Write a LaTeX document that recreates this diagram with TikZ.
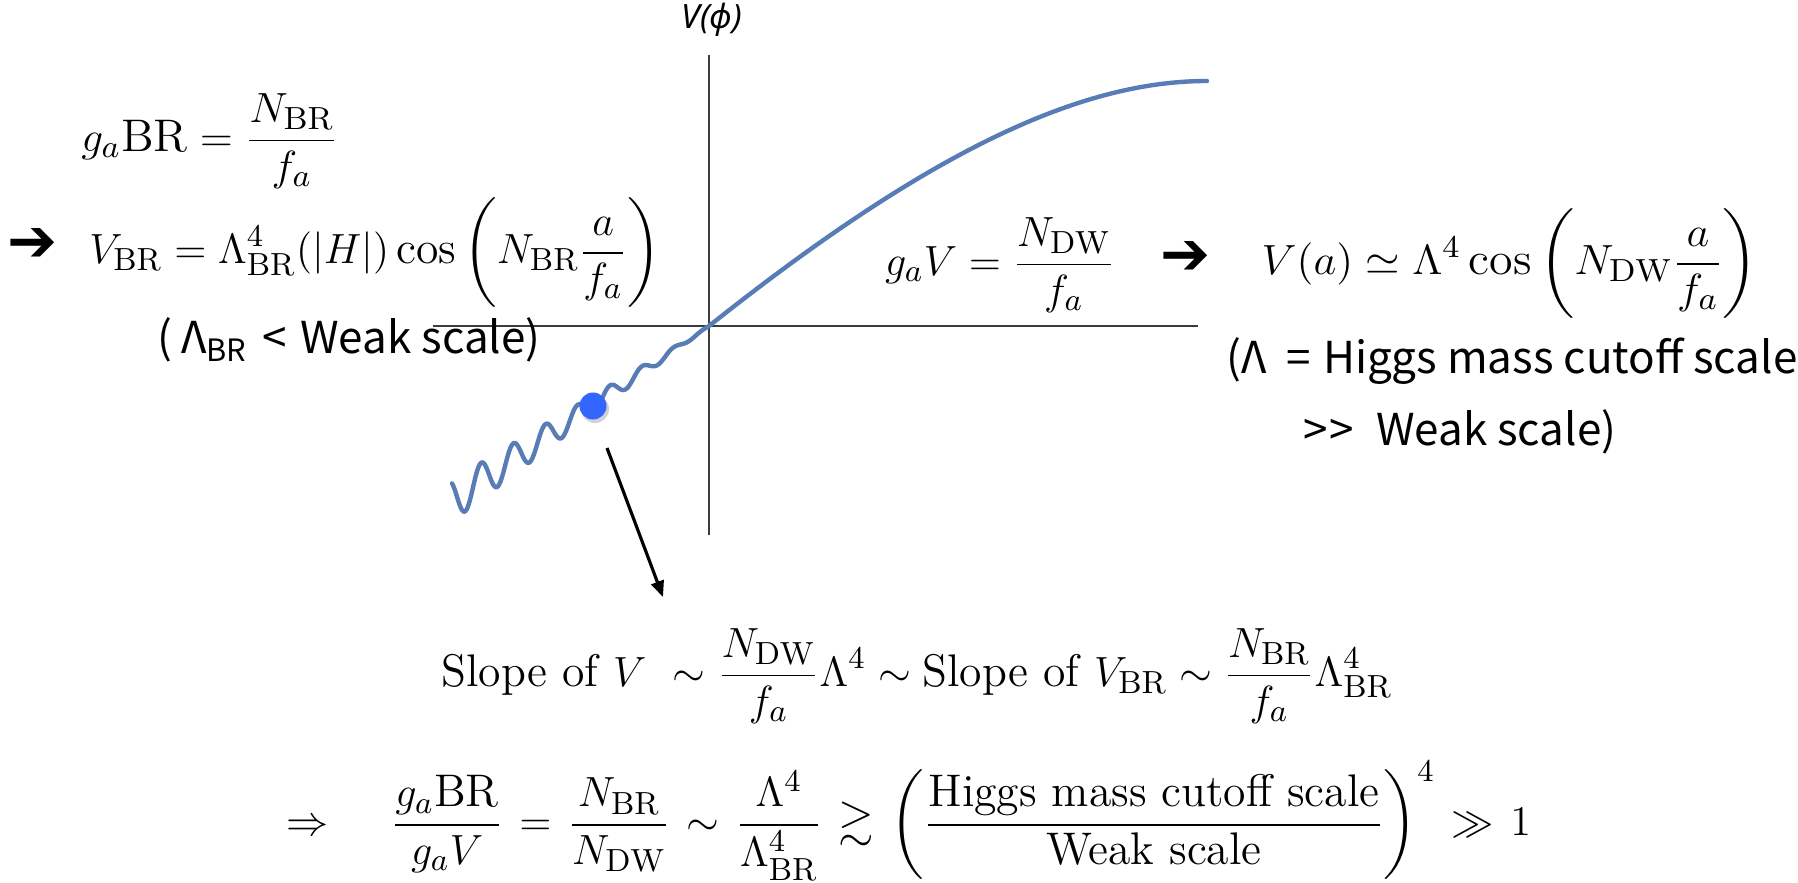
\documentclass[tikz,border=0pt]{standalone}
\usepackage{amsmath,amssymb}
\usepackage{fontspec}
\usetikzlibrary{arrows.meta}
\newfontfamily\kfont{Noto Sans CJK KR}
\newfontfamily\vfont{Noto Sans}
\newfontfamily\symfont{DejaVu Sans}
\definecolor{curveblue}{RGB}{88,124,182}
\definecolor{dotblue}{RGB}{51,102,255}
\definecolor{axisgray}{RGB}{60,60,60}
\begin{document}
\begin{tikzpicture}[x=0.01cm,y=-0.01cm,
  eq/.style={inner sep=0pt, font=\fontsize{13}{16}\selectfont},
  note/.style={inner sep=0pt, anchor=base, font=\kfont\fontsize{12.5}{15}\selectfont},
  bigarrow/.style={inner sep=0pt, font=\symfont\fontsize{17}{20}\selectfont},
  axis/.style={draw=axisgray, line width=0.5pt},
  curve/.style={draw=curveblue, line width=1.25pt, line join=round, line cap=round},
  pointer/.style={draw=black, line width=0.9pt, -{Triangle[length=0.16cm,width=0.13cm]}}]
\useasboundingbox (0,0) rectangle (1798,882);
% axes
\coordinate (yTop) at (709,55);
\coordinate (yBot) at (709,535);
\coordinate (xLeft) at (433,326);
\coordinate (xRight) at (1198,326);
\draw[axis] (yTop) -- (yBot);
\draw[axis] (xLeft) -- (xRight);
\node[inner sep=0pt, font=\vfont\itshape\fontsize{9.5}{11}\selectfont] (vlabel) at (712,20) {V(ϕ)};
% potential
\draw[curve] plot[domain=257:0, samples=300, variable=\u]
  ({709-\u},{326+0.68*\u+0.08*\u*cos(11.18*(\u-115))})
  .. controls (929,151) and (1080,81) .. (1207,81);
% ball
\fill[black, opacity=0.18] (595,409) circle (0.14cm);
\node[circle, fill=dotblue, minimum size=0.27cm, inner sep=0pt] (dot) at (593,406) {};
% pointer
\coordinate (pStart) at (607,448);
\coordinate (pEnd) at (663,597);
\draw[pointer] (pStart) -- (pEnd);
% left equations
\node[eq] (gBR) at (210,141) {\scalebox{1.03}[1]{$\displaystyle g_a\mathrm{BR} = \frac{N_{\mathrm{BR}}}{f_a}$}};
\node[bigarrow] (arrL) at (33,245) {➔};
\node[eq] (VBR) at (375,253) {$\displaystyle V_{\mathrm{BR}} = \Lambda^4_{\mathrm{BR}}(|H|)\cos\left(N_{\mathrm{BR}}\frac{a}{f_a}\right)$};
\node[note] (noteBR) at (349,353) {(\hspace{0.09cm}Λ\textsubscript{BR}\hspace{0.14cm}<\hspace{0.14cm}Weak\hspace{0.1cm}scale)};
% right equations
\node[eq] (gV) at (1000,265) {$\displaystyle g_aV = \frac{N_{\mathrm{DW}}}{f_a}$};
\node[bigarrow] (arrR) at (1186,258) {➔};
\node[eq] (Va) at (1510,264) {\scalebox{1.05}[1]{$\displaystyle V(a) \simeq \Lambda^4 \cos\left(N_{\mathrm{DW}}\frac{a}{f_a}\right)$}};
\node[note] (noteL1) at (1512,373) {(Λ\hspace{0.2cm}=\hspace{0.12cm}Higgs mass cutoff scale};
\node[note] (noteL2) at (1460,445) {>{\kern0.5pt}>\hspace{0.22cm}Weak scale)};
% bottom
\node[eq] (slope) at (917,676) {$\displaystyle \text{Slope of } V\ \sim \frac{N_{\mathrm{DW}}}{f_a}\Lambda^4 \sim \text{Slope of } V_{\mathrm{BR}} \sim \frac{N_{\mathrm{BR}}}{f_a}\Lambda^4_{\mathrm{BR}}$};
\node[eq] (ratio) at (909,821) {$\thickmuskip=7mu\displaystyle \Rightarrow\quad \frac{g_a\mathrm{BR}}{g_aV} = \frac{N_{\mathrm{BR}}}{N_{\mathrm{DW}}} \sim \frac{\Lambda^4}{\Lambda^4_{\mathrm{BR}}} \gtrsim \left(\frac{\text{Higgs mass cutoff scale}}{\text{Weak scale}}\right)^4 \gg 1$};
\end{tikzpicture}
\end{document}
